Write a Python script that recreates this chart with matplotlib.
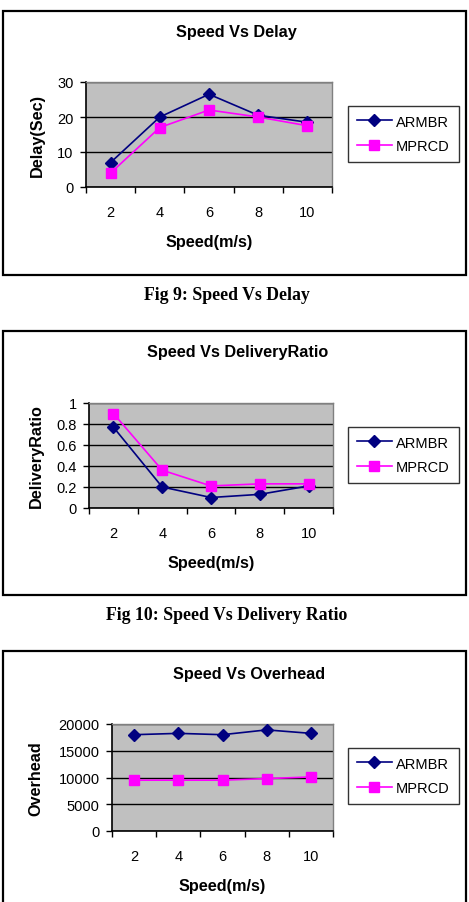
import matplotlib
matplotlib.use("Agg")
import matplotlib.pyplot as plt
from matplotlib.patches import Rectangle

speed = [2, 4, 6, 8, 10]
series_names = ["ARMBR", "MPRCD"]

delay_armbr = [7, 20, 26.5, 20.5, 18.5]
delay_mprcd = [4, 17, 22, 20, 17.5]

ratio_armbr = [0.77, 0.20, 0.10, 0.13, 0.21]
ratio_mprcd = [0.90, 0.36, 0.21, 0.23, 0.23]

overhead_armbr = [18000, 18250, 18000, 18900, 18250]
overhead_mprcd = [9500, 9500, 9500, 9800, 10100]

titles = ["Speed Vs Delay", "Speed Vs DeliveryRatio", "Speed Vs Overhead"]
ylabels = ["Delay(Sec)", "DeliveryRatio", "Overhead"]
captions = ["Fig 9: Speed Vs Delay", "Fig 10: Speed Vs Delivery Ratio"]
xlabel = "Speed(m/s)"

delay_ticks = [0, 10, 20, 30]
ratio_ticks = [0, 0.2, 0.4, 0.6, 0.8, 1]
ratio_ticklabels = ["0", "0.2", "0.4", "0.6", "0.8", "1"]
overhead_ticks = [0, 5000, 10000, 15000, 20000]

W, H = 469, 903
fig = plt.figure(figsize=(W / 100, H / 100), dpi=100)
fig.patch.set_facecolor("white")

SANS = "Liberation Sans"
SERIF = "Liberation Serif"
LABEL_SIZE = 11.7
CAPTION_SIZE = 12.8


def fx(px):
    return px / W


def fy(py):
    return 1 - py / H


def add_box(x0, y0, x1, y1):
    fig.patches.append(Rectangle((fx(x0), fy(y1)), fx(x1) - fx(x0), fy(y0) - fy(y1),
                                 transform=fig.transFigure, fill=False,
                                 edgecolor="black", linewidth=1.6, zorder=0))


def panel(idx, box, plot, ya, yb, yt, ytl, ylim, title_y, xlab_y, ylab_x, legend_y):
    add_box(*box)
    l, t, r, b = plot
    ax = fig.add_axes([fx(l), fy(b), fx(r) - fx(l), fy(t) - fy(b)])
    ax.set_facecolor("#c0c0c0")
    ax.plot(speed, ya, color="#000080", marker="D", markersize=6, linewidth=1.2,
            label=series_names[0], zorder=3)
    ax.plot(speed, yb, color="#ff00ff", marker="s", markersize=7, linewidth=1.2,
            label=series_names[1], zorder=3)
    ax.set_xlim(1, 11)
    ax.set_xticks(speed)
    ax.set_xticklabels([str(s) for s in speed], fontsize=10.5, family=SANS)
    ax.set_xticks([1, 3, 5, 7, 9, 11], minor=True)
    ax.tick_params(axis="x", which="major", length=0, pad=13)
    ax.tick_params(axis="x", which="minor", length=4, width=1, direction="out", color="black")
    ax.set_ylim(*ylim)
    ax.set_yticks(yt)
    ax.set_yticklabels(ytl, fontsize=10.5, family=SANS)
    ax.tick_params(axis="y", length=4, width=1, direction="out", pad=5)
    ax.yaxis.grid(True, color="black", linewidth=1.0)
    ax.set_axisbelow(True)
    for s in ["top", "right"]:
        ax.spines[s].set_color("#808080")
        ax.spines[s].set_linewidth(1.0)
    for s in ["left", "bottom"]:
        ax.spines[s].set_color("black")
        ax.spines[s].set_linewidth(1.2)
    fig.text(fx((l + r) / 2 + 27), fy(title_y), titles[idx], ha="center", va="center",
             fontsize=LABEL_SIZE, fontweight="bold", family=SANS)
    fig.text(fx((l + r) / 2), fy(xlab_y), xlabel, ha="center", va="center",
             fontsize=LABEL_SIZE, fontweight="bold", family=SANS)
    fig.text(fx(ylab_x), fy((t + b) / 2), ylabels[idx], ha="center", va="center",
             rotation=90, fontsize=LABEL_SIZE, fontweight="bold", family=SANS)
    leg = ax.legend(loc="center left", bbox_to_anchor=(fx(348), fy(legend_y)),
                    bbox_transform=fig.transFigure, frameon=True, fancybox=False,
                    edgecolor="black", prop={"family": SANS, "size": 10.5},
                    handlelength=2.4, handletextpad=0.3, borderpad=0.6,
                    labelspacing=0.75, borderaxespad=0)
    leg.get_frame().set_linewidth(1.0)
    return ax


panel(0, (3, 12, 466, 276), (86, 83, 332, 188), delay_armbr, delay_mprcd,
      delay_ticks, [str(v) for v in delay_ticks], (0, 30),
      33, 243, 37, 135)
fig.text(fx(227), fy(295), captions[0], ha="center", va="center",
         fontsize=CAPTION_SIZE, fontweight="bold", family=SERIF)

panel(1, (3, 332, 466, 596), (89, 404, 333, 509), ratio_armbr, ratio_mprcd,
      ratio_ticks, ratio_ticklabels, (0, 1),
      353, 564, 36, 456)
fig.text(fx(227), fy(615), captions[1], ha="center", va="center",
         fontsize=CAPTION_SIZE, fontweight="bold", family=SERIF)

panel(2, (3, 652, 466, 915), (112, 725, 333, 832), overhead_armbr, overhead_mprcd,
      overhead_ticks, [str(v) for v in overhead_ticks], (0, 20000),
      674, 887, 36, 777)

fig.savefig("out.png", dpi=100)
